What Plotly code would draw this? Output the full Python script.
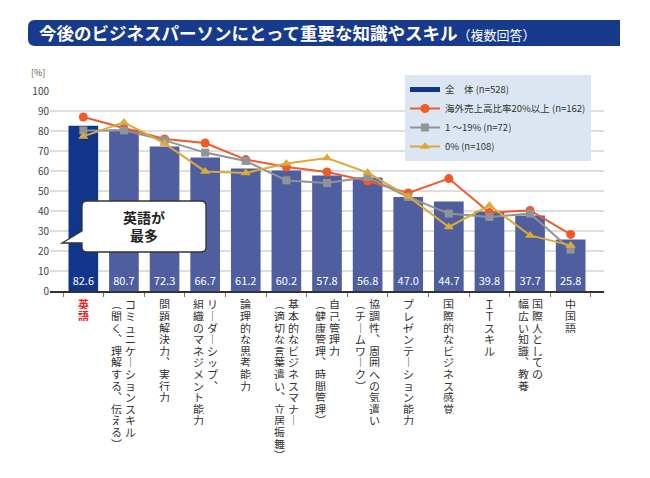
import plotly.graph_objects as go

# categories as vertical-text columns (right column first)
labels = [
    ["英語"],
    ["コミュニケーションスキル", "(聞く、理解する、伝える)"],
    ["問題解決力、実行力"],
    ["リーダーシップ、", "組織のマネジメント能力"],
    ["論理的な思考能力"],
    ["基本的なビジネスマナー", "(適切な言葉遣い、立居振舞)"],
    ["自己管理力", "(健康管理、時間管理)"],
    ["協調性、周囲への気遣い", "(チームワーク)"],
    ["プレゼンテーション能力"],
    ["国際的なビジネス感覚"],
    ["ＩＴスキル"],
    ["国際人としての", "幅広い知識、教養"],
    ["中国語"],
]
total = [82.6, 80.7, 72.3, 66.7, 61.2, 60.2, 57.8, 56.8, 47.0, 44.7, 39.8, 37.7, 25.8]
over20 = [87.0, 81.5, 76.0, 74.0, 65.7, 62.0, 59.5, 55.0, 49.0, 56.2, 39.2, 40.3, 28.3]
pct1_19 = [80.3, 80.3, 75.3, 69.2, 65.0, 55.3, 54.0, 57.0, 47.0, 38.7, 37.0, 38.7, 20.7]
pct0 = [77.3, 84.3, 73.8, 59.8, 59.0, 63.7, 66.5, 59.2, 47.3, 32.0, 42.8, 27.8, 22.8]
yticks = [0, 10, 20, 30, 40, 50, 60, 70, 80, 90, 100]

cats = ["".join(c) for c in labels]

# page body has an 8px margin, so the figure is a bit smaller than the window
O = 8
W, H = 650 - O, 478 - O
ML, MR, MT, MB = 42, 46, 83, 187
PW, PH = W - ML - MR, H - MT - MB


def px(x, y):
    # page pixel -> paper coords
    return (x - O - ML) / PW, (H - MB - (y - O)) / PH


FONT = "Noto Sans CJK JP"
NAVY = "#10358a"
BAR = "#4f5e9f"

fig = go.Figure()
fig.add_trace(go.Bar(
    x=cats, y=total, name="全　体 (n=528)", showlegend=False,
    marker=dict(color=[NAVY] + [BAR] * (len(cats) - 1), line=dict(width=0)),
    width=0.73,
    texttemplate="%{y:.1f}", textposition="inside", insidetextanchor="start",
    textangle=0, textfont=dict(color="white", size=11, family=FONT),
))
# legend entry for the bars, drawn as a thick line like the original
fig.add_trace(go.Scatter(
    x=[None], y=[None], name="全　体 (n=528)", mode="lines",
    line=dict(color=NAVY, width=5),
))
fig.add_trace(go.Scatter(
    x=cats, y=over20, name="海外売上高比率20%以上 (n=162)", mode="lines+markers",
    line=dict(color="#f05a28", width=2), marker=dict(symbol="circle", size=9),
))
fig.add_trace(go.Scatter(
    x=cats, y=pct1_19, name="1 ～19% (n=72)", mode="lines+markers",
    line=dict(color="#8e9498", width=2), marker=dict(symbol="square", size=8),
))
fig.add_trace(go.Scatter(
    x=cats, y=pct0, name="0% (n=108)", mode="lines+markers",
    line=dict(color="#dba93a", width=2), marker=dict(symbol="triangle-up", size=9),
))

shapes = []
# title banner with rounded left edge
x0, y0 = px(28, 20)
x1, y1 = px(620, 46)
r = 7 / PW
rv = 7 / PH
shapes.append(dict(
    type="path", xref="paper", yref="paper", layer="above",
    path=(f"M {x0 + r},{y0} L {x1},{y0} L {x1},{y1} L {x0 + r},{y1} "
          f"Q {x0},{y1} {x0},{y1 + rv} L {x0},{y0 - rv} Q {x0},{y0} {x0 + r},{y0} Z"),
    fillcolor="#173a8c", line=dict(width=0),
))

# callout box
bx0, by0 = px(82, 201)
bx1, by1 = px(206, 252)
tx, ty = px(62, 243)
_, pa = px(0, 231)
_, pb = px(0, 243)
rx, ry = 5 / PW, 5 / PH
shapes.append(dict(
    type="path", xref="paper", yref="paper", layer="above",
    path=(f"M {bx0 + rx},{by0} L {bx1 - rx},{by0} Q {bx1},{by0} {bx1},{by0 - ry} "
          f"L {bx1},{by1 + ry} Q {bx1},{by1} {bx1 - rx},{by1} L {bx0 + rx},{by1} "
          f"Q {bx0},{by1} {bx0},{by1 + ry} L {bx0},{pb} L {tx},{ty} L {bx0},{pa} "
          f"L {bx0},{by0 - ry} Q {bx0},{by0} {bx0 + rx},{by0} Z"),
    fillcolor="white", line=dict(color="#333333", width=1.3),
))

annotations = []
tx0, ty0 = px(37, 33)
annotations.append(dict(
    xref="paper", yref="paper", x=tx0, y=ty0, xanchor="left", yanchor="middle",
    showarrow=False,
    text="<b>今後のビジネスパーソンにとって重要な知識やスキル</b>"
         "<span style='font-size:13px'>（複数回答）</span>",
    font=dict(color="white", size=17.5, family=FONT),
))
cx, cy = px(144, 226)
annotations.append(dict(
    xref="paper", yref="paper", x=cx, y=cy, xanchor="center", yanchor="middle",
    showarrow=False,
    text="<b>英語が<br>最多</b>", font=dict(color="#222222", size=14, family=FONT),
))
ux, uy = px(38, 73)
annotations.append(dict(
    xref="paper", yref="paper", x=ux, y=uy, xanchor="center", yanchor="middle",
    showarrow=False,
    text="[%]", font=dict(color="#555555", size=9, family=FONT),
))

# vertical category labels, one character per annotation
vmap = {"(": "︵", ")": "︶", "、": "︑", "ー": "｜"}
step = 11.6
for i, cols in enumerate(labels):
    n = len(cols)
    for j, col in enumerate(cols):
        dx = (n - 1) / 2 * 14 - j * 14
        for k, ch in enumerate(col):
            _, yy = px(0, 298 + step / 2 + k * step)
            red = i == 0
            annotations.append(dict(
                x=cats[i], xref="x", yref="paper", y=yy, xshift=dx,
                xanchor="center", yanchor="middle", height=11, borderpad=0,
                showarrow=False, text=f"<b>{ch}</b>" if red else vmap.get(ch, ch),
                font=dict(color="#e8232a" if red else "#333333", size=11, family=FONT),
            ))

lx, ly = px(405, 75)
fig.update_layout(
    width=W, height=H,
    margin=dict(l=ML, r=MR, t=MT, b=MB),
    paper_bgcolor="white", plot_bgcolor="white",
    font=dict(family=FONT, color="#444444"),
    shapes=shapes, annotations=annotations,
    bargap=0.27,
    legend=dict(
        x=lx, y=ly, xanchor="left", yanchor="top",
        bgcolor="#dce6f2", font=dict(size=9.5, color="#333333"),
        tracegroupgap=0, itemwidth=30,
    ),
    xaxis=dict(
        showticklabels=False, showline=True, linecolor="#333333", linewidth=1.5,
        ticks="outside", tickson="boundaries", ticklen=4, tickcolor="#777777",
        showgrid=False,
    ),
    yaxis=dict(
        range=[0, 100], tickvals=yticks, showgrid=True, gridcolor="#dedede",
        gridwidth=1.5, zeroline=False, tickfont=dict(size=10, color="#444444"),
    ),
)

fig.write_html("out.html")
